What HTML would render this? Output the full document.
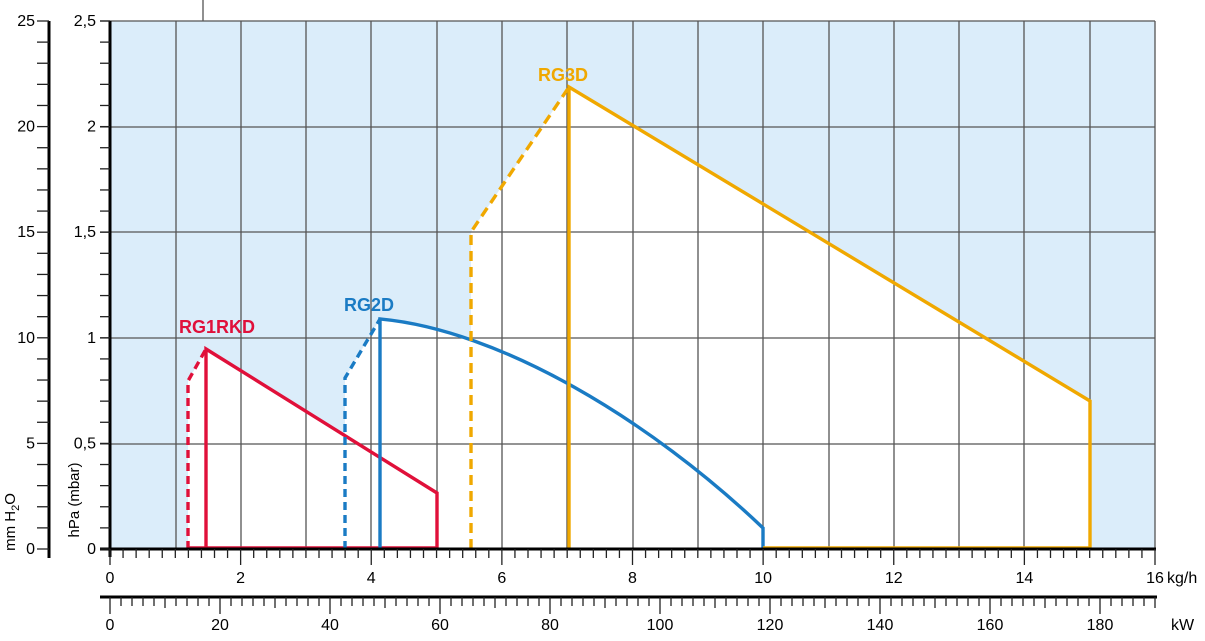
<!DOCTYPE html>
<html><head><meta charset="utf-8"><style>
html,body{margin:0;padding:0;background:#fff;}
svg{display:block;font-family:"Liberation Sans",Arial,sans-serif;}
</style></head><body>
<svg width="1205" height="641" viewBox="0 0 1205 641" xmlns="http://www.w3.org/2000/svg">
<rect x="110" y="21" width="1045" height="528" fill="#dbedfa"/>
<g fill="#fff">
<polygon points="188,549 188,381 206,349 437,493 437,549"/>
<path d="M345,549 L345,378 L380,319 C500,330 650,420 763,528 L763,549 Z"/>
<polygon points="471,549 471,232 569,87 1090,401 1090,549"/>
</g>
<g stroke="#555" stroke-width="1.3">
<line x1="176" y1="21" x2="176" y2="549"/><line x1="241" y1="21" x2="241" y2="549"/>
<line x1="306" y1="21" x2="306" y2="549"/><line x1="371" y1="21" x2="371" y2="549"/>
<line x1="437" y1="21" x2="437" y2="549"/><line x1="502" y1="21" x2="502" y2="549"/>
<line x1="567" y1="21" x2="567" y2="549"/><line x1="633" y1="21" x2="633" y2="549"/>
<line x1="698" y1="21" x2="698" y2="549"/><line x1="763" y1="21" x2="763" y2="549"/>
<line x1="829" y1="21" x2="829" y2="549"/><line x1="894" y1="21" x2="894" y2="549"/>
<line x1="959" y1="21" x2="959" y2="549"/><line x1="1024" y1="21" x2="1024" y2="549"/>
<line x1="1090" y1="21" x2="1090" y2="549"/><line x1="1155" y1="21" x2="1155" y2="549"/>
<line x1="100" y1="21" x2="1155" y2="21"/><line x1="100" y1="127" x2="1155" y2="127"/>
<line x1="100" y1="232" x2="1155" y2="232"/><line x1="100" y1="338" x2="1155" y2="338"/>
<line x1="100" y1="444" x2="1155" y2="444"/>
</g>
<line x1="203" y1="0" x2="203" y2="21" stroke="#555" stroke-width="1.3"/>
<g fill="none" stroke-width="3.4">
<g stroke="#e0103a">
<polyline points="188,549 188,381 206,349" stroke-dasharray="8,5"/>
<polyline points="206,549 206,349 437,493 437,549"/>
<line x1="188" y1="548" x2="437" y2="548"/>
</g>
<g stroke="#1a7bc4">
<polyline points="345,549 345,378 380,319" stroke-dasharray="8,5"/>
<path d="M380,549 L380,319 C500,330 650,420 763,528 L763,549"/>
</g>
<g stroke="#f0a800">
<polyline points="471,549 471,232 569,87" stroke-dasharray="10,6"/>
<polyline points="569,549 569,87 1090,401 1090,549"/>
<line x1="763" y1="548" x2="1090" y2="548"/>
</g>
</g>
<g font-weight="bold" font-size="18">
<text x="179" y="333" fill="#e0103a">RG1RKD</text>
<text x="344" y="311" fill="#1a7bc4">RG2D</text>
<text x="538" y="81" fill="#f0a800">RG3D</text>
</g>
<line x1="110" y1="21" x2="110" y2="557" stroke="#000" stroke-width="3"/>
<line x1="100" y1="549" x2="1156" y2="549" stroke="#000" stroke-width="3"/>
<line x1="100" y1="597" x2="1157" y2="597" stroke="#000" stroke-width="3"/>
<line x1="49" y1="21" x2="49" y2="558" stroke="#000" stroke-width="3"/>
<g id="ticks" stroke="#222" stroke-width="1.3"></g>
<g id="labels" font-size="16" fill="#000"></g>
<text transform="translate(15,522) rotate(-90)" font-size="15" text-anchor="middle">mm H<tspan font-size="11" dy="4">2</tspan><tspan dy="-4">O</tspan></text>
<text transform="translate(79,500) rotate(-90)" font-size="15" text-anchor="middle">hPa (mbar)</text>
<text x="1167" y="583" font-size="16">kg/h</text>
<text x="1171" y="630" font-size="16">kW</text>
<script>
var ns="http://www.w3.org/2000/svg",t=document.getElementById('ticks'),L=document.getElementById('labels');
function ln(a,b,c,d){var e=document.createElementNS(ns,'line');e.setAttribute('x1',a);e.setAttribute('y1',b);e.setAttribute('x2',c);e.setAttribute('y2',d);t.appendChild(e);}
function tx(x,y,s,anc){var e=document.createElementNS(ns,'text');e.setAttribute('x',x);e.setAttribute('y',y);e.setAttribute('text-anchor',anc);e.textContent=s;L.appendChild(e);}
var kx=1045/16;
for(var i=0;i<=80;i++){var x=110+i*kx/5;ln(x,549,x,i%10==0?565:558);}
for(var i=0;i<=16;i+=2)tx(110+i*kx,583,String(i),'middle');
var kw=5.5;
for(var i=0;i<=190;i+=2){var x=110+i*kw;ln(x,597,x,i%10==0?(i%20==0?614:608):606);}
for(var i=0;i<=180;i+=20)tx(110+i*kw,630,String(i),'middle');
var py=528/2.5;
for(var i=0;i<=25;i++){var y=549-i*py/10;ln(100,y,110,y);}
var hl=['0','0,5','1','1,5','2','2,5'];
for(var i=0;i<6;i++)tx(96,549-i*0.5*py+5,hl[i],'end');
for(var i=0;i<=25;i++){var y=549-i*py/10;ln(37,y,49,y);}
for(var i=0;i<=25;i+=5)tx(35,549-i*py/10+5,String(i),'end');
</script>
</svg>
</body></html>
